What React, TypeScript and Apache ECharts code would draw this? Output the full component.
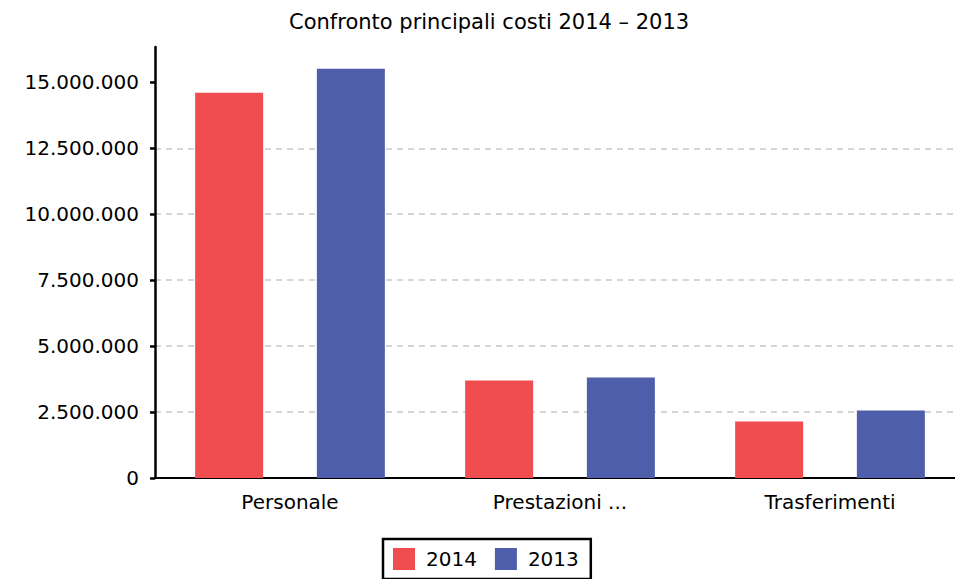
import React, { useEffect, useRef } from "react";
import * as echarts from "echarts";

const categories = ["Personale", "Prestazioni ...", "Trasferimenti"];
const values2014 = [14610000, 3700000, 2140000];
const values2013 = [15520000, 3810000, 2560000];
const yTicks = [0, 2500000, 5000000, 7500000, 10000000, 12500000, 15000000];
const seriesNames = ["2014", "2013"];

const FONT = "DejaVu Sans";

function fmt(v: number): string {
  return String(Math.round(v)).replace(/\B(?=(\d{3})+(?!\d))/g, ".");
}

export default function App() {
  const ref = useRef<HTMLDivElement>(null);
  useEffect(() => {
    if (!ref.current) return;
    const chart = echarts.init(ref.current, null, { renderer: "svg" });
    chart.setOption({
      animation: false,
      textStyle: { fontFamily: FONT },
      title: {
        text: "Confronto principali costi 2014 – 2013",
        left: 284,
        top: 6,
        textStyle: { fontFamily: FONT, fontSize: 21, fontWeight: "normal", color: "#000" },
      },
      legend: {
        data: seriesNames,
        left: 383,
        top: 539,
        orient: "horizontal",
        icon: "rect",
        itemWidth: 22,
        itemHeight: 22,
        itemGap: 18,
        borderColor: "#000",
        borderWidth: 2.5,
        padding: [9, 12, 9, 10],
        textStyle: { fontFamily: FONT, fontSize: 20, color: "#000", padding: [0, 0, 0, 6] },
      },
      grid: {
        left: 155,
        top: 47,
        width: 810,
        bottom: 101,
        containLabel: false,
        outerBoundsMode: "none",
      },
      xAxis: {
        type: "category",
        data: categories,
        axisLine: { lineStyle: { color: "#000", width: 2 } },
        axisTick: { alignWithLabel: true, length: 6, lineStyle: { color: "#000", width: 2.5 } },
        axisLabel: { fontFamily: FONT, fontSize: 20, color: "#000", margin: 14 },
      },
      yAxis: {
        type: "value",
        min: 0,
        max: 16340000,
        interval: 2500000,
        axisLine: { show: true, lineStyle: { color: "#000", width: 2.5 } },
        axisTick: { show: true, length: 5, customValues: yTicks, lineStyle: { color: "#000", width: 2.5 } },
        axisLabel: {
          fontFamily: FONT,
          fontSize: 20,
          color: "#000",
          margin: 16,
          customValues: yTicks,
          formatter: (v: number) => fmt(v),
        },
        splitLine: {
          show: true,
          showMaxLine: false,
          lineStyle: { color: "#c8c8c8", type: [6, 5], width: 1.5 },
        },
      },
      series: [
        {
          name: seriesNames[0],
          type: "bar",
          data: values2014,
          barWidth: 68,
          barGap: "79%",
          itemStyle: { color: "#EF4D50" },
        },
        {
          name: seriesNames[1],
          type: "bar",
          data: values2013,
          barWidth: 68,
          barGap: "79%",
          itemStyle: { color: "#4F5EAB" },
        },
      ],
    });
    return () => chart.dispose();
  }, []);
  return (
    <div
      ref={ref}
      style={{ position: "fixed", left: 0, top: 0, width: 955, height: 579, background: "#fff" }}
    />
  );
}
